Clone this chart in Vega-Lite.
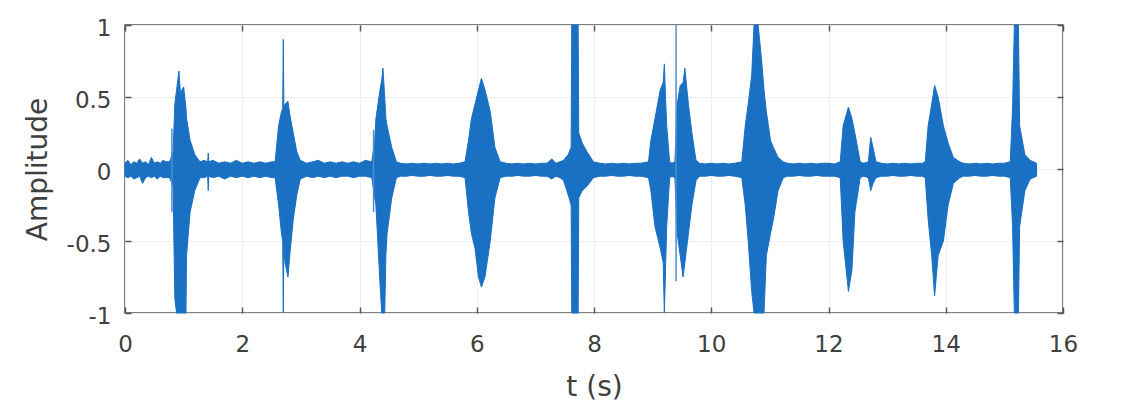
{
  "$schema": "https://vega.github.io/schema/vega-lite/v6.json",
  "width": 938,
  "height": 288,
  "autosize": {"type": "none"},
  "padding": {"left": 125, "top": 25, "right": 68, "bottom": 104},
  "background": "white",
  "config": {
    "view": {"stroke": "#555555", "strokeWidth": 1.5},
    "axis": {
      "labelFont": "DejaVu Sans",
      "titleFont": "DejaVu Sans",
      "labelColor": "#404040",
      "titleColor": "#404040",
      "labelFontSize": 23,
      "titleFontSize": 28,
      "titleFontWeight": "normal",
      "tickColor": "#555555",
      "tickWidth": 1.5,
      "tickSize": -6,
      "labelFlush": false,
      "domain": false,
      "gridColor": "#ededed",
      "gridWidth": 1
    }
  },
  "datasets": {
    "env": [
      {"t": 0.00, "hi": 0.04, "lo": -0.05},
      {"t": 0.05, "hi": 0.06, "lo": -0.06},
      {"t": 0.10, "hi": 0.03, "lo": -0.05},
      {"t": 0.15, "hi": 0.05, "lo": -0.07},
      {"t": 0.20, "hi": 0.04, "lo": -0.06},
      {"t": 0.25, "hi": 0.07, "lo": -0.05},
      {"t": 0.30, "hi": 0.04, "lo": -0.10},
      {"t": 0.35, "hi": 0.05, "lo": -0.06},
      {"t": 0.40, "hi": 0.03, "lo": -0.05},
      {"t": 0.45, "hi": 0.08, "lo": -0.06},
      {"t": 0.50, "hi": 0.04, "lo": -0.05},
      {"t": 0.55, "hi": 0.05, "lo": -0.07},
      {"t": 0.60, "hi": 0.04, "lo": -0.05},
      {"t": 0.65, "hi": 0.06, "lo": -0.06},
      {"t": 0.70, "hi": 0.05, "lo": -0.06},
      {"t": 0.76, "hi": 0.05, "lo": -0.06},
      {"t": 0.82, "hi": 0.12, "lo": -0.12},
      {"t": 0.85, "hi": 0.45, "lo": -0.9},
      {"t": 0.88, "hi": 0.55, "lo": -1.0},
      {"t": 0.92, "hi": 0.68, "lo": -1.0},
      {"t": 0.95, "hi": 0.5, "lo": -1.0},
      {"t": 0.97, "hi": 0.55, "lo": -1.0},
      {"t": 1.00, "hi": 0.57, "lo": -1.0},
      {"t": 1.04, "hi": 0.42, "lo": -1.0},
      {"t": 1.05, "hi": 0.35, "lo": -0.6},
      {"t": 1.11, "hi": 0.2, "lo": -0.3},
      {"t": 1.19, "hi": 0.1, "lo": -0.15},
      {"t": 1.28, "hi": 0.05, "lo": -0.06},
      {"t": 1.35, "hi": 0.06, "lo": -0.06},
      {"t": 1.41, "hi": 0.05, "lo": -0.05},
      {"t": 1.42, "hi": 0.11, "lo": -0.15},
      {"t": 1.43, "hi": 0.05, "lo": -0.05},
      {"t": 1.50, "hi": 0.06, "lo": -0.06},
      {"t": 1.60, "hi": 0.04, "lo": -0.05},
      {"t": 1.70, "hi": 0.05, "lo": -0.07},
      {"t": 1.80, "hi": 0.04, "lo": -0.05},
      {"t": 1.90, "hi": 0.06, "lo": -0.06},
      {"t": 2.00, "hi": 0.04, "lo": -0.05},
      {"t": 2.10, "hi": 0.05, "lo": -0.06},
      {"t": 2.20, "hi": 0.04, "lo": -0.05},
      {"t": 2.30, "hi": 0.05, "lo": -0.06},
      {"t": 2.40, "hi": 0.04, "lo": -0.05},
      {"t": 2.50, "hi": 0.05, "lo": -0.06},
      {"t": 2.56, "hi": 0.05, "lo": -0.06},
      {"t": 2.62, "hi": 0.3, "lo": -0.25},
      {"t": 2.67, "hi": 0.4, "lo": -0.45},
      {"t": 2.69, "hi": 0.42, "lo": -0.5},
      {"t": 2.70, "hi": 0.9, "lo": -1.0},
      {"t": 2.71, "hi": 0.42, "lo": -0.55},
      {"t": 2.73, "hi": 0.45, "lo": -0.65},
      {"t": 2.78, "hi": 0.47, "lo": -0.75},
      {"t": 2.81, "hi": 0.38, "lo": -0.6},
      {"t": 2.87, "hi": 0.25, "lo": -0.35},
      {"t": 2.93, "hi": 0.12, "lo": -0.18},
      {"t": 2.99, "hi": 0.06, "lo": -0.07},
      {"t": 3.10, "hi": 0.04, "lo": -0.05},
      {"t": 3.20, "hi": 0.05, "lo": -0.06},
      {"t": 3.30, "hi": 0.06, "lo": -0.05},
      {"t": 3.40, "hi": 0.04, "lo": -0.06},
      {"t": 3.50, "hi": 0.05, "lo": -0.05},
      {"t": 3.60, "hi": 0.04, "lo": -0.06},
      {"t": 3.70, "hi": 0.05, "lo": -0.05},
      {"t": 3.80, "hi": 0.04, "lo": -0.05},
      {"t": 3.90, "hi": 0.05, "lo": -0.06},
      {"t": 4.00, "hi": 0.04, "lo": -0.05},
      {"t": 4.10, "hi": 0.06, "lo": -0.05},
      {"t": 4.21, "hi": 0.05, "lo": -0.06},
      {"t": 4.26, "hi": 0.2, "lo": -0.2},
      {"t": 4.28, "hi": 0.35, "lo": -0.25},
      {"t": 4.35, "hi": 0.55, "lo": -0.8},
      {"t": 4.38, "hi": 0.62, "lo": -1.0},
      {"t": 4.40, "hi": 0.7, "lo": -1.0},
      {"t": 4.43, "hi": 0.5, "lo": -1.0},
      {"t": 4.45, "hi": 0.35, "lo": -0.6},
      {"t": 4.47, "hi": 0.3, "lo": -0.45},
      {"t": 4.55, "hi": 0.15, "lo": -0.2},
      {"t": 4.63, "hi": 0.05, "lo": -0.06},
      {"t": 4.70, "hi": 0.04, "lo": -0.05},
      {"t": 4.80, "hi": 0.035, "lo": -0.05},
      {"t": 4.90, "hi": 0.04, "lo": -0.045},
      {"t": 5.00, "hi": 0.035, "lo": -0.05},
      {"t": 5.10, "hi": 0.04, "lo": -0.05},
      {"t": 5.20, "hi": 0.035, "lo": -0.045},
      {"t": 5.30, "hi": 0.04, "lo": -0.05},
      {"t": 5.40, "hi": 0.035, "lo": -0.05},
      {"t": 5.50, "hi": 0.04, "lo": -0.045},
      {"t": 5.60, "hi": 0.035, "lo": -0.05},
      {"t": 5.70, "hi": 0.04, "lo": -0.05},
      {"t": 5.80, "hi": 0.05, "lo": -0.06},
      {"t": 5.86, "hi": 0.2, "lo": -0.3},
      {"t": 5.91, "hi": 0.35, "lo": -0.45},
      {"t": 5.97, "hi": 0.45, "lo": -0.55},
      {"t": 6.03, "hi": 0.55, "lo": -0.75},
      {"t": 6.08, "hi": 0.63, "lo": -0.82},
      {"t": 6.14, "hi": 0.55, "lo": -0.75},
      {"t": 6.23, "hi": 0.4, "lo": -0.5},
      {"t": 6.31, "hi": 0.15, "lo": -0.2},
      {"t": 6.40, "hi": 0.05, "lo": -0.06},
      {"t": 6.50, "hi": 0.04, "lo": -0.05},
      {"t": 6.60, "hi": 0.035, "lo": -0.05},
      {"t": 6.70, "hi": 0.04, "lo": -0.045},
      {"t": 6.80, "hi": 0.035, "lo": -0.05},
      {"t": 6.90, "hi": 0.04, "lo": -0.05},
      {"t": 7.00, "hi": 0.035, "lo": -0.045},
      {"t": 7.10, "hi": 0.04, "lo": -0.05},
      {"t": 7.20, "hi": 0.04, "lo": -0.05},
      {"t": 7.28, "hi": 0.07, "lo": -0.07},
      {"t": 7.35, "hi": 0.04, "lo": -0.05},
      {"t": 7.42, "hi": 0.05, "lo": -0.06},
      {"t": 7.48, "hi": 0.06, "lo": -0.08},
      {"t": 7.56, "hi": 0.1, "lo": -0.18},
      {"t": 7.61, "hi": 0.15, "lo": -0.25},
      {"t": 7.62, "hi": 1.0, "lo": -1.0},
      {"t": 7.67, "hi": 1.0, "lo": -1.0},
      {"t": 7.73, "hi": 1.0, "lo": -1.0},
      {"t": 7.74, "hi": 0.25, "lo": -0.2},
      {"t": 7.80, "hi": 0.18, "lo": -0.15},
      {"t": 7.88, "hi": 0.12, "lo": -0.12},
      {"t": 7.99, "hi": 0.05, "lo": -0.06},
      {"t": 8.10, "hi": 0.04, "lo": -0.05},
      {"t": 8.20, "hi": 0.035, "lo": -0.05},
      {"t": 8.30, "hi": 0.04, "lo": -0.045},
      {"t": 8.40, "hi": 0.035, "lo": -0.05},
      {"t": 8.50, "hi": 0.04, "lo": -0.05},
      {"t": 8.60, "hi": 0.035, "lo": -0.045},
      {"t": 8.70, "hi": 0.04, "lo": -0.05},
      {"t": 8.80, "hi": 0.04, "lo": -0.05},
      {"t": 8.93, "hi": 0.05, "lo": -0.06},
      {"t": 8.97, "hi": 0.2, "lo": -0.15},
      {"t": 9.04, "hi": 0.35, "lo": -0.4},
      {"t": 9.13, "hi": 0.55, "lo": -0.55},
      {"t": 9.18, "hi": 0.6, "lo": -0.65},
      {"t": 9.20, "hi": 0.73, "lo": -1.0},
      {"t": 9.22, "hi": 0.5, "lo": -0.7},
      {"t": 9.24, "hi": 0.3, "lo": -0.4},
      {"t": 9.29, "hi": 0.05, "lo": -0.06},
      {"t": 9.33, "hi": 0.04, "lo": -0.05},
      {"t": 9.38, "hi": 0.05, "lo": -0.06},
      {"t": 9.42, "hi": 0.45, "lo": -0.45},
      {"t": 9.47, "hi": 0.58, "lo": -0.6},
      {"t": 9.52, "hi": 0.6, "lo": -0.75},
      {"t": 9.55, "hi": 0.7, "lo": -0.65},
      {"t": 9.61, "hi": 0.45, "lo": -0.45},
      {"t": 9.67, "hi": 0.25, "lo": -0.25},
      {"t": 9.74, "hi": 0.06, "lo": -0.08},
      {"t": 9.80, "hi": 0.04, "lo": -0.05},
      {"t": 9.90, "hi": 0.035, "lo": -0.05},
      {"t": 10.00, "hi": 0.04, "lo": -0.045},
      {"t": 10.10, "hi": 0.035, "lo": -0.05},
      {"t": 10.20, "hi": 0.04, "lo": -0.05},
      {"t": 10.30, "hi": 0.035, "lo": -0.045},
      {"t": 10.40, "hi": 0.04, "lo": -0.05},
      {"t": 10.52, "hi": 0.05, "lo": -0.06},
      {"t": 10.58, "hi": 0.3, "lo": -0.25},
      {"t": 10.63, "hi": 0.45, "lo": -0.5},
      {"t": 10.69, "hi": 0.65, "lo": -0.85},
      {"t": 10.73, "hi": 1.0, "lo": -1.0},
      {"t": 10.80, "hi": 1.0, "lo": -1.0},
      {"t": 10.86, "hi": 0.75, "lo": -1.0},
      {"t": 10.90, "hi": 0.55, "lo": -1.0},
      {"t": 10.94, "hi": 0.4, "lo": -0.6},
      {"t": 11.01, "hi": 0.2, "lo": -0.45},
      {"t": 11.06, "hi": 0.15, "lo": -0.35},
      {"t": 11.14, "hi": 0.08, "lo": -0.15},
      {"t": 11.23, "hi": 0.05, "lo": -0.06},
      {"t": 11.30, "hi": 0.04, "lo": -0.05},
      {"t": 11.40, "hi": 0.035, "lo": -0.05},
      {"t": 11.50, "hi": 0.04, "lo": -0.045},
      {"t": 11.60, "hi": 0.035, "lo": -0.05},
      {"t": 11.70, "hi": 0.04, "lo": -0.05},
      {"t": 11.80, "hi": 0.035, "lo": -0.045},
      {"t": 11.90, "hi": 0.04, "lo": -0.05},
      {"t": 12.00, "hi": 0.04, "lo": -0.05},
      {"t": 12.10, "hi": 0.035, "lo": -0.05},
      {"t": 12.20, "hi": 0.05, "lo": -0.06},
      {"t": 12.25, "hi": 0.3, "lo": -0.5},
      {"t": 12.34, "hi": 0.43, "lo": -0.85},
      {"t": 12.40, "hi": 0.35, "lo": -0.7},
      {"t": 12.45, "hi": 0.25, "lo": -0.3},
      {"t": 12.54, "hi": 0.05, "lo": -0.06},
      {"t": 12.60, "hi": 0.04, "lo": -0.05},
      {"t": 12.68, "hi": 0.05, "lo": -0.06},
      {"t": 12.72, "hi": 0.22, "lo": -0.15},
      {"t": 12.76, "hi": 0.15, "lo": -0.1},
      {"t": 12.81, "hi": 0.05, "lo": -0.06},
      {"t": 12.90, "hi": 0.04, "lo": -0.05},
      {"t": 13.00, "hi": 0.035, "lo": -0.05},
      {"t": 13.10, "hi": 0.04, "lo": -0.045},
      {"t": 13.20, "hi": 0.035, "lo": -0.05},
      {"t": 13.30, "hi": 0.04, "lo": -0.05},
      {"t": 13.40, "hi": 0.035, "lo": -0.045},
      {"t": 13.50, "hi": 0.04, "lo": -0.05},
      {"t": 13.60, "hi": 0.04, "lo": -0.05},
      {"t": 13.65, "hi": 0.05, "lo": -0.06},
      {"t": 13.70, "hi": 0.3, "lo": -0.35},
      {"t": 13.76, "hi": 0.45, "lo": -0.6},
      {"t": 13.81, "hi": 0.58, "lo": -0.88},
      {"t": 13.87, "hi": 0.5, "lo": -0.6},
      {"t": 13.96, "hi": 0.3, "lo": -0.5},
      {"t": 14.04, "hi": 0.18, "lo": -0.25},
      {"t": 14.13, "hi": 0.08, "lo": -0.1},
      {"t": 14.24, "hi": 0.05, "lo": -0.06},
      {"t": 14.30, "hi": 0.04, "lo": -0.05},
      {"t": 14.40, "hi": 0.035, "lo": -0.05},
      {"t": 14.50, "hi": 0.04, "lo": -0.045},
      {"t": 14.60, "hi": 0.035, "lo": -0.05},
      {"t": 14.70, "hi": 0.04, "lo": -0.05},
      {"t": 14.80, "hi": 0.035, "lo": -0.045},
      {"t": 14.90, "hi": 0.04, "lo": -0.05},
      {"t": 15.00, "hi": 0.04, "lo": -0.05},
      {"t": 15.10, "hi": 0.05, "lo": -0.06},
      {"t": 15.14, "hi": 0.43, "lo": -0.4},
      {"t": 15.17, "hi": 1.0, "lo": -1.0},
      {"t": 15.24, "hi": 1.0, "lo": -1.0},
      {"t": 15.26, "hi": 0.3, "lo": -0.4},
      {"t": 15.35, "hi": 0.1, "lo": -0.15},
      {"t": 15.44, "hi": 0.06, "lo": -0.07},
      {"t": 15.55, "hi": 0.04, "lo": -0.05}
    ],
    "thin": [
      {"t": 0.80, "hi": 0.28, "lo": -0.3},
      {"t": 4.24, "hi": 0.27, "lo": -0.3},
      {"t": 9.40, "hi": 1.0, "lo": -0.78}
    ]
  },
  "layer": [
    {
      "data": {"name": "env"},
      "mark": {"type": "area", "color": "#1a70c2", "stroke": "#1a70c2", "strokeWidth": 1, "opacity": 1},
      "encoding": {
        "x": {
          "field": "t", "type": "quantitative",
          "scale": {"domain": [0, 16], "nice": false, "zero": false},
          "axis": {
            "orient": "bottom", "title": "t (s)",
            "values": [0, 2, 4, 6, 8, 10, 12, 14, 16],
            "labelPadding": 26, "titlePadding": 17, "grid": true
          }
        },
        "y": {
          "field": "hi", "type": "quantitative",
          "scale": {"domain": [-1, 1], "nice": false, "zero": false},
          "axis": {
            "orient": "left", "title": "Amplitude",
            "values": [-1, -0.5, 0, 0.5, 1],
            "format": "~g",
            "labelExpr": "replace(datum.label, '\u2212', '-')",
            "labelPadding": 20, "labelOffset": 3, "titlePadding": 14, "grid": true
          }
        },
        "y2": {"field": "lo"}
      }
    },
    {
      "data": {"name": "thin"},
      "mark": {"type": "rule", "color": "#4f8fd0", "strokeWidth": 1.5},
      "encoding": {
        "x": {
          "field": "t", "type": "quantitative",
          "axis": {"orient": "top", "title": null, "labels": false, "grid": false, "values": [0, 2, 4, 6, 8, 10, 12, 14, 16]}
        },
        "y": {
          "field": "hi", "type": "quantitative",
          "axis": {"orient": "right", "title": null, "labels": false, "grid": false, "values": [-1, -0.5, 0, 0.5, 1]}
        },
        "y2": {"field": "lo"}
      }
    }
  ],
  "resolve": {"axis": {"x": "independent", "y": "independent"}}
}
